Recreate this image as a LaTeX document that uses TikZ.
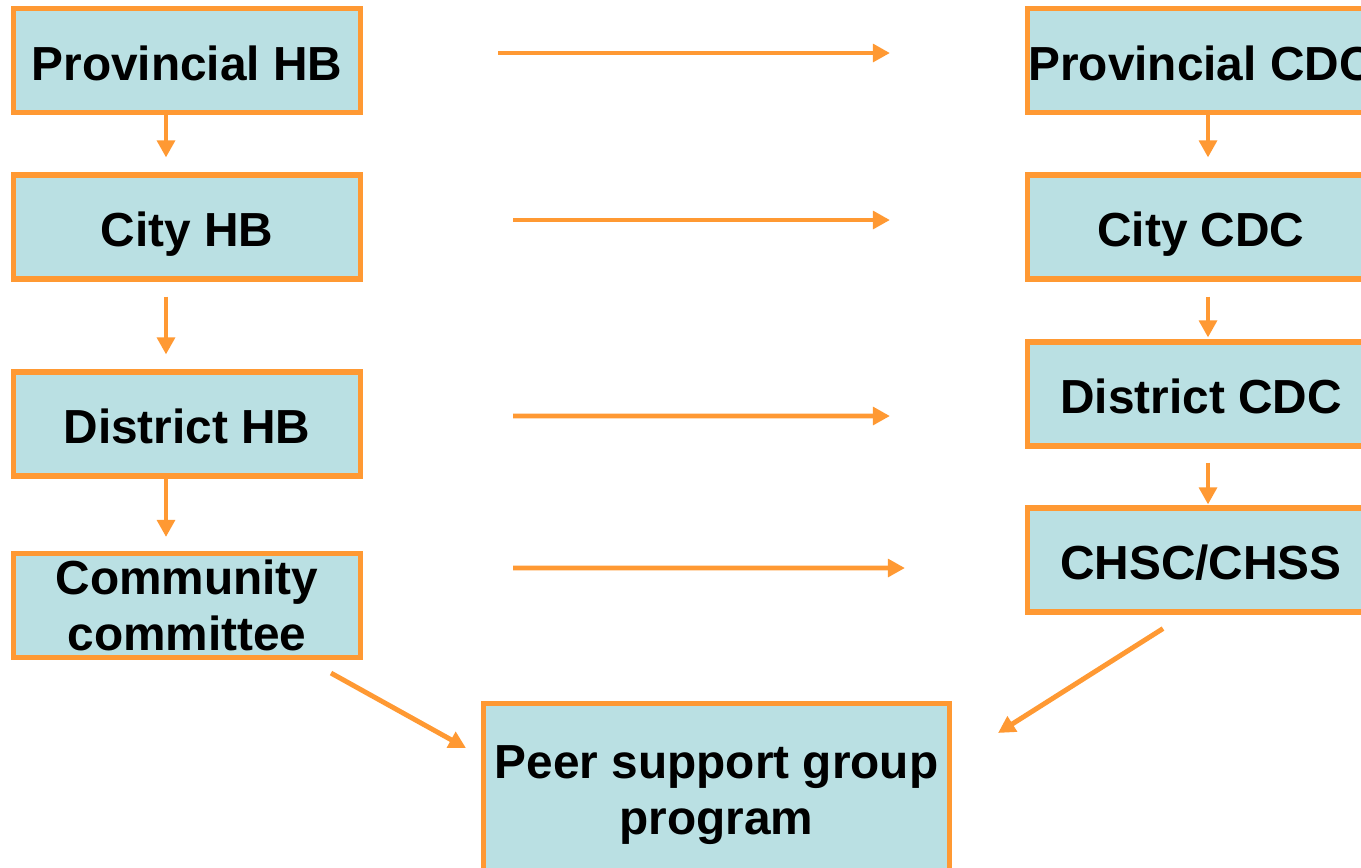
\documentclass[tikz,border=0pt]{standalone}
\usepackage{fontspec}
\setmainfont{Liberation Sans}
\usetikzlibrary{arrows.meta}

\definecolor{boxfill}{RGB}{186,224,227}
\definecolor{linkorange}{RGB}{255,153,51}

\tikzset{
    unit/.style={draw=linkorange, fill=boxfill, line width=1.45pt,
        minimum width=34.7mm, minimum height=10.4mm, inner sep=0pt,
        align=center, font=\fontsize{13.6}{15.8}\selectfont\bfseries},
    oneline/.style={text height=11.1pt, text depth=0pt},
    link/.style={draw=linkorange, line width=1.4pt,
        -{Triangle[length=1.7mm,width=1.75mm]}},
}

\begin{document}
\begin{tikzpicture}[x=0.1mm, y=-0.1mm]
    \path[use as bounding box, clip] (0,0) rectangle (1361,867);

    % health bureau side
    \node[unit, oneline] (phb) at (187,60.5) {Provincial HB};
    \node[unit, oneline] (chb) at (187,227) {City HB};
    \node[unit, oneline] (dhb) at (187,424) {District HB};
    \node[unit] (cc) at (187,605.5) {Community\\committee};

    % disease control side
    \node[unit, oneline] (pcdc) at (1201,60.5) {Provincial CDC};
    \node[unit, oneline] (ccdc) at (1201,227) {City CDC};
    \node[unit, oneline] (dcdc) at (1201,394) {District CDC};
    \node[unit, oneline] (chsc) at (1201,560) {CHSC/CHSS};

    \node[unit, minimum width=46.6mm, minimum height=18.3mm] (peer) at (716.5,795)
        {Peer support group\\program};

    % down the levels
    \draw[link, shorten >=1.5mm] ([xshift=-2.1mm]phb.south) -- ([xshift=-2.1mm]chb.north);
    \draw[link, shorten <=1.5mm, shorten >=1.5mm] ([xshift=-2.1mm]chb.south) -- ([xshift=-2.1mm]dhb.north);
    \draw[link, shorten >=1.4mm] ([xshift=-2.1mm]dhb.south) -- ([xshift=-2.1mm]cc.north);
    \draw[link, shorten >=1.5mm] ([xshift=0.7mm]pcdc.south) -- ([xshift=0.7mm]ccdc.north);
    \draw[link, shorten <=1.5mm, shorten >=0.2mm] ([xshift=0.7mm]ccdc.south) -- ([xshift=0.7mm]dcdc.north);
    \draw[link, shorten <=1.4mm, shorten >=0.1mm] ([xshift=0.7mm]dcdc.south) -- ([xshift=0.7mm]chsc.north);

    % across
    \draw[link, shorten <=13.5mm, shorten >=13.5mm] ([yshift=0.75mm]phb.east) -- ([yshift=0.75mm]pcdc.west);
    \draw[link, shorten <=15mm, shorten >=13.5mm] ([yshift=0.7mm]chb.east) -- ([yshift=0.7mm]ccdc.west);
    \draw[link, shorten <=15mm, shorten >=13.5mm] ([yshift=0.8mm]dhb.east) -- ([yshift=-2.2mm]dcdc.west);
    \draw[link, shorten <=15mm, shorten >=12mm] ([yshift=3.75mm]cc.east) -- ([yshift=-0.8mm]chsc.west);

    % into the program
    \draw[link] ([xshift=14.4mm, yshift=-1.3mm]cc.south) -- ([xshift=-1.5mm, yshift=-4.7mm]peer.north west);
    \draw[link] ([xshift=-3.8mm, yshift=-1.4mm]chsc.south) -- ([xshift=4.6mm, yshift=-3.2mm]peer.north east);
\end{tikzpicture}
\end{document}
